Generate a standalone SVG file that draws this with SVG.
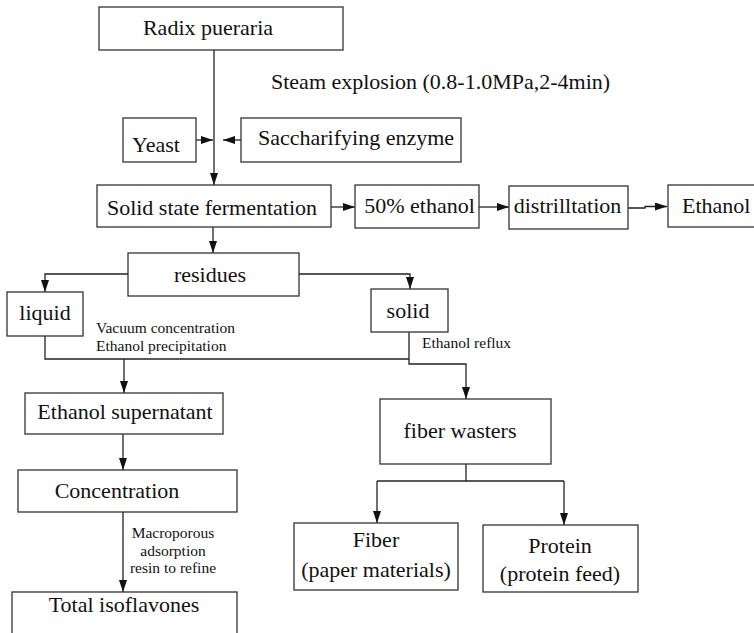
<svg xmlns="http://www.w3.org/2000/svg" width="754" height="633" viewBox="0 0 754 633">
<style>
.box{fill:#fff;stroke:#333;stroke-width:1.3}
text{font-family:'Liberation Serif','DejaVu Serif',serif;fill:#111}
.t{font-size:22px}
.s{font-size:15.5px}
.c{text-anchor:middle}
.ln{fill:none;stroke:#222;stroke-width:1.3}
</style>
<defs>
<marker id="ah" markerWidth="12" markerHeight="8" refX="12" refY="4" orient="auto" markerUnits="userSpaceOnUse">
<path d="M0,0 L12,4 L0,8 Z" fill="#111"/>
</marker>
</defs>
<rect width="754" height="633" fill="#fff"/>
<g id="connectors">
<line class="ln" x1="214" y1="50" x2="214" y2="185" marker-end="url(#ah)"/>
<line class="ln" x1="196" y1="140" x2="213" y2="140" marker-end="url(#ah)"/>
<line class="ln" x1="241" y1="140" x2="223" y2="140" marker-end="url(#ah)"/>
<line class="ln" x1="331" y1="207" x2="355" y2="207" marker-end="url(#ah)"/>
<line class="ln" x1="479" y1="207" x2="509" y2="207" marker-end="url(#ah)"/>
<polyline class="ln" points="628,208 645,208 645,206.5 667,206.5" marker-end="url(#ah)"/>
<line class="ln" x1="213" y1="227" x2="213" y2="253" marker-end="url(#ah)"/>
<polyline class="ln" points="128,274 45,274 45,292" marker-end="url(#ah)"/>
<polyline class="ln" points="299,274 410,274 410,289" marker-end="url(#ah)"/>
<polyline class="ln" points="45,336 45,359 409,359"/>
<line class="ln" x1="124" y1="359" x2="124" y2="393" marker-end="url(#ah)"/>
<polyline class="ln" points="409,332 409,364 466,364 466,399" marker-end="url(#ah)"/>
<line class="ln" x1="123" y1="434" x2="123" y2="470" marker-end="url(#ah)"/>
<line class="ln" x1="123" y1="512" x2="123" y2="592" marker-end="url(#ah)"/>
<line class="ln" x1="466" y1="464" x2="466" y2="481"/>
<polyline class="ln" points="377,481 564,481"/>
<line class="ln" x1="377" y1="481" x2="377" y2="523" marker-end="url(#ah)"/>
<line class="ln" x1="564" y1="481" x2="564" y2="525" marker-end="url(#ah)"/>
</g>
<g id="labels">
<text class="t" x="271" y="89">Steam explosion (0.8-1.0MPa,2-4min)</text>
<text class="s" x="96" y="333">Vacuum concentration</text>
<text class="s" x="96" y="351">Ethanol precipitation</text>
<text class="s" x="422" y="348">Ethanol reflux</text>
<text class="s c" x="173" y="538">Macroporous</text>
<text class="s c" x="173" y="556">adsorption</text>
<text class="s c" x="173" y="573">resin to refine</text>
</g>
<g id="radix"><rect class="box" x="99" y="7" width="244" height="43"/><text class="t c" x="208" y="35">Radix pueraria</text></g>
<g id="yeast"><rect class="box" x="123" y="118" width="73" height="44"/><text class="t" x="132" y="152">Yeast</text></g>
<g id="enzyme"><rect class="box" x="241" y="118" width="220" height="44"/><text class="t" x="258" y="145">Saccharifying enzyme</text></g>
<g id="ssf"><rect class="box" x="97" y="185" width="234" height="42"/><text class="t c" x="212" y="215">Solid state fermentation</text></g>
<g id="eth50"><rect class="box" x="355" y="185" width="124" height="43"/><text class="t c" x="419.5" y="213">50% ethanol</text></g>
<g id="distill"><rect class="box" x="509" y="186" width="119" height="43"/><text class="t c" x="567.5" y="213">distrilltation</text></g>
<g id="ethanol"><rect class="box" x="668" y="185" width="100" height="42"/><text class="t" x="682" y="213">Ethanol</text></g>
<g id="residues"><rect class="box" x="128" y="253" width="171" height="43"/><text class="t c" x="210" y="282">residues</text></g>
<g id="liquid"><rect class="box" x="7" y="292" width="76" height="44"/><text class="t c" x="45" y="320">liquid</text></g>
<g id="solid"><rect class="box" x="371" y="289" width="77" height="43"/><text class="t c" x="408" y="318">solid</text></g>
<g id="supernatant"><rect class="box" x="25" y="393" width="198" height="41"/><text class="t c" x="125" y="419">Ethanol supernatant</text></g>
<g id="fiberwasters"><rect class="box" x="380" y="399" width="171" height="65"/><text class="t c" x="460" y="438">fiber wasters</text></g>
<g id="concentration"><rect class="box" x="18" y="470" width="219" height="42"/><text class="t c" x="117" y="498">Concentration</text></g>
<g id="fiber"><rect class="box" x="294" y="523" width="164" height="67"/><text class="t c" x="376" y="547">Fiber</text><text class="t c" x="376" y="577">(paper materials)</text></g>
<g id="protein"><rect class="box" x="483" y="525" width="155" height="67"/><text class="t c" x="560" y="553">Protein</text><text class="t c" x="560" y="581">(protein feed)</text></g>
<g id="isoflavones"><rect class="box" x="12" y="592" width="225" height="60"/><text class="t c" x="124" y="612">Total isoflavones</text></g>
</svg>
